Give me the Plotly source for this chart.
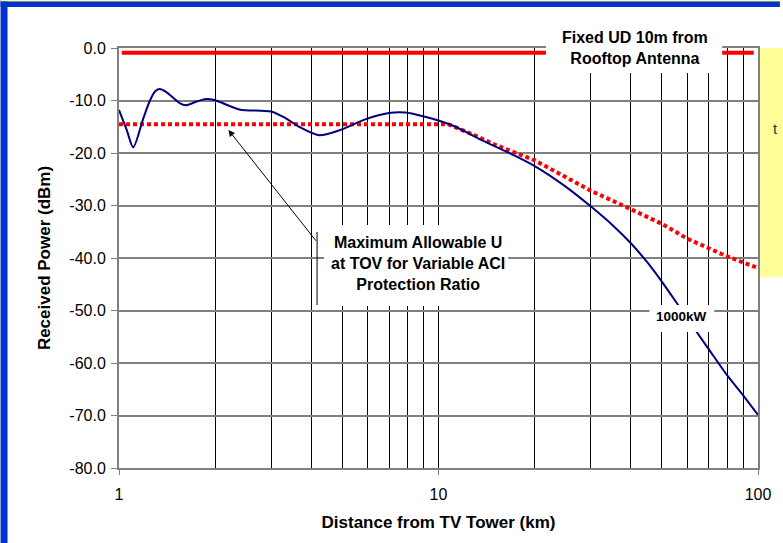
import math
import plotly.graph_objects as go

# ---- data ----
dist_curve = [1.0, 1.057, 1.108, 1.19, 1.25, 1.30, 1.342, 1.40, 1.549, 1.617, 1.75, 1.875, 1.99, 2.38, 2.99,
              3.33, 3.66, 4.23, 4.88, 5.9, 6.99, 7.87, 9.08, 10.0, 11.3, 13.3, 16.9, 20.0, 25.0, 30.0,
              35.0, 40.0, 45.0, 50.0, 56.6, 63.8, 70.0, 80.0, 90.0, 100.0]
power_1000kw = [-11.8, -15.6, -18.9, -13.5, -10.0, -8.2, -7.8, -8.3, -10.5, -10.9, -10.2, -9.7, -9.9, -11.7, -12.1,
                -13.4, -15.0, -16.6, -15.7, -13.6, -12.4, -12.3, -13.1, -13.8, -15.0, -17.2, -20.2, -22.5,
                -26.4, -30.2, -33.7, -37.2, -40.8, -44.5, -49.2, -53.8, -57.3, -62.3, -66.2, -69.9]

dist_limit = [1.0, 10.7, 13.3, 15.0, 20.0, 30.0, 40.0, 50.0, 60.0, 70.0, 80.0, 100.0]
power_limit = [-14.5, -14.5, -16.9, -18.4, -21.4, -27.2, -30.7, -33.5, -36.3, -38.2, -39.7, -41.9]

dist_fixed = [1.02, 97.0]
power_fixed = [-0.9, -0.9]

major_ticks = [1, 10, 100]
major_labels = ["1", "10", "100"]
minor_ticks = [2, 3, 4, 5, 6, 7, 8, 9, 20, 30, 40, 50, 60, 70, 80, 90]
y_ticks = [0, -10, -20, -30, -40, -50, -60, -70, -80]
y_labels = ["0.0", "-10.0", "-20.0", "-30.0", "-40.0", "-50.0", "-60.0", "-70.0", "-80.0"]

FONT = "Liberation Sans, Arial, sans-serif"

fig = go.Figure()
fig.add_trace(go.Scatter(x=dist_fixed, y=power_fixed, mode="lines",
                         line=dict(color="#ff0000", width=4), hoverinfo="skip", showlegend=False))
fig.add_trace(go.Scatter(x=dist_limit, y=power_limit, mode="lines",
                         line=dict(color="#ff0000", width=4, dash="4px,3px"), showlegend=False))
fig.add_trace(go.Scatter(x=dist_curve, y=power_1000kw, mode="lines", line_shape="spline",
                         line=dict(color="#000080", width=2, smoothing=0.8), showlegend=False))

L, R, T, B = 119, 22, 48, 75
W, H = 783, 543
PW, PH = W - L - R, H - T - B

def px(X):
    return (X - L) / PW

def py(Y):
    return (H - B - Y) / PH

shapes = [
    # slide frame
    dict(type="rect", xref="paper", yref="paper", x0=px(0), x1=px(7), y0=py(543), y1=py(0),
         fillcolor="#0033cc", line_width=0, layer="above"),
    dict(type="rect", xref="paper", yref="paper", x0=px(0), x1=px(783), y0=py(7), y1=py(1.3),
         fillcolor="#0033cc", line_width=0, layer="above"),
    dict(type="rect", xref="paper", yref="paper", x0=px(0), x1=px(783), y0=py(1.3), y1=py(0),
         fillcolor="#ffff99", line_width=0, layer="above"),
    # yellow box on right (cut off)
    dict(type="rect", xref="paper", yref="paper", x0=px(763), x1=px(790), y0=py(277), y1=py(48),
         fillcolor="#ffff99", line_width=0, layer="above"),
    # white label backgrounds
    dict(type="rect", xref="paper", yref="paper", x0=px(548), x1=px(725), y0=py(73), y1=py(30),
         fillcolor="white", line_width=0, layer="above"),
    dict(type="rect", xref="paper", yref="paper", x0=px(325), x1=px(510), y0=py(306), y1=py(225),
         fillcolor="white", line_width=0, layer="above"),
    dict(type="rect", xref="paper", yref="paper", x0=px(652), x1=px(717), y0=py(332), y1=py(305),
         fillcolor="white", line_width=0, layer="above"),
    dict(type="line", xref="paper", yref="paper", x0=px(318), x1=px(318), y0=py(305), y1=py(232),
         line=dict(color="black", width=1), layer="above"),
]

annotations = [
    dict(xref="paper", yref="paper", x=px(637), y=py(48), xanchor="center", yanchor="middle",
         text="<b>Fixed UD 10m from<br>Rooftop Antenna</b>",
         showarrow=False, font=dict(family=FONT, size=16, color="black"), align="center"),
    dict(xref="paper", yref="paper", x=px(419), y=py(263), xanchor="center", yanchor="middle",
         text="<b>Maximum Allowable U<br>at TOV for Variable ACI<br>Protection Ratio</b>",
         showarrow=False, font=dict(family=FONT, size=16, color="black"), align="center"),
    dict(xref="paper", yref="paper", x=px(684), y=py(316), xanchor="center", yanchor="middle",
         text="<b>1000kW</b>",
         showarrow=False, font=dict(family=FONT, size=13.5, color="black"), align="center"),
    dict(xref="x", yref="y", x=math.log10(2.2), y=-15.6, axref="x", ayref="y",
         ax=math.log10(4.17), ay=-37.0, text="", showarrow=True, arrowhead=2, arrowsize=1.3,
         arrowwidth=1, arrowcolor="black", standoff=0, startstandoff=0),
    dict(xref="paper", yref="paper", x=px(783), y=py(128), text="t", showarrow=False,
         xanchor="right", yanchor="middle", font=dict(family=FONT, size=15, color="#333333")),
]

fig.update_layout(
    width=W, height=H,
    margin=dict(l=L, r=R, t=T, b=B, pad=0),
    paper_bgcolor="white", plot_bgcolor="white",
    font=dict(family=FONT, size=16, color="black"),
    shapes=shapes, annotations=annotations,
    xaxis=dict(type="log", range=[0, 2], tickmode="array", tickvals=major_ticks, ticktext=major_labels,
               showgrid=True, gridcolor="black", gridwidth=1,
               minor=dict(tickmode="array", tickvals=minor_ticks, showgrid=True, gridcolor="black",
                          gridwidth=1, ticks=""),
               ticks="outside", ticklen=5, tickcolor="#808080", ticklabelstandoff=6,
               showline=True, linecolor="#808080", linewidth=2, mirror=True, zeroline=False,
               tickfont=dict(family=FONT, size=16),
               title=dict(text="<b>Distance from TV Tower (km)</b>", font=dict(family=FONT, size=17), standoff=14)),
    yaxis=dict(range=[-80, 0], tickmode="array", tickvals=y_ticks, ticktext=y_labels,
               showgrid=True, gridcolor="#808080", gridwidth=2,
               ticks="outside", ticklen=6, tickcolor="#808080", ticklabelstandoff=2,
               showline=True, linecolor="#808080", linewidth=2, mirror=True, zeroline=False,
               tickfont=dict(family=FONT, size=16),
               title=dict(text="<b>Received Power (dBm)</b>", font=dict(family=FONT, size=17), standoff=14)),
)

fig.write_html("out.html")
